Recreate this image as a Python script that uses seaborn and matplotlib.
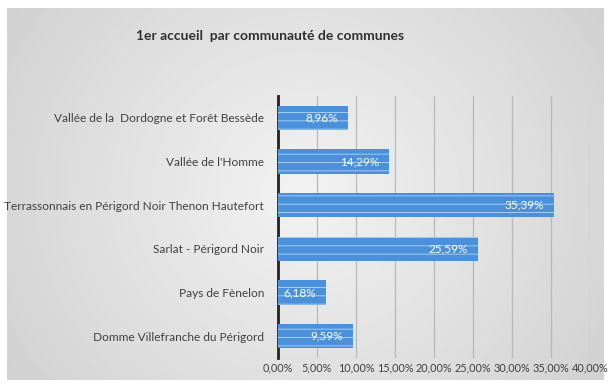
import numpy as np
import pandas as pd
import seaborn as sns
import matplotlib.pyplot as plt
from matplotlib.ticker import FuncFormatter

communautes = [
    "Vallée de la  Dordogne et Forêt Bessède",
    "Vallée de l'Homme",
    "Terrassonnais en Périgord Noir Thenon Hautefort",
    "Sarlat - Périgord Noir",
    "Pays de Fènelon",
    "Domme Villefranche du Périgord",
]
parts = [0.0896, 0.1429, 0.3539, 0.2559, 0.0618, 0.0959]
labels = ["8,96%", "14,29%", "35,39%", "25,59%", "6,18%", "9,59%"]
ticks = [0, 0.05, 0.10, 0.15, 0.20, 0.25, 0.30, 0.35, 0.40]

df = pd.DataFrame({"Communaute": communautes, "Part": parts})

sns.set_theme(style="white")
plt.rcParams['font.family'] = ['Lato', 'DejaVu Sans']
plt.rcParams['hatch.color'] = '#a8cdf2'
plt.rcParams['hatch.linewidth'] = 0.7

fig = plt.figure(figsize=(6.11, 3.85), dpi=100)
fig.patch.set_facecolor('white')

# grey gradient panel behind the chart
bg = fig.add_axes([0.012, 0.012, 0.976, 0.966])
yy, xx = np.mgrid[-1:1:200j, -1:1:300j]
grad = 0.95 - 0.12 * np.sqrt((xx * 0.9) ** 2 + (yy * 0.6) ** 2)
bg.imshow(grad, cmap='gray', vmin=0, vmax=1, aspect='auto', extent=[0, 1, 0, 1])
bg.axis('off')

ax = fig.add_axes([278 / 611, 1 - 358 / 385, (590 - 278) / 611, (358 - 96) / 385])
ax.patch.set_alpha(0)

sns.barplot(data=df, x="Part", y="Communaute", orient='h', color='#4a90da',
            width=0.55, ax=ax, saturation=1, zorder=3)
for p in ax.patches:
    p.set_hatch('--')
    p.set_edgecolor('#a8cdf2')
    p.set_linewidth(0)

for i, (v, t) in enumerate(zip(parts, labels)):
    ax.annotate(t, (v, i), xytext=(-7, 0), textcoords='offset points',
                ha='right', va='center', color='white', fontsize=8.5, zorder=4)

ax.set_xlim(0, 0.40)
ax.set_xticks(ticks)
ax.xaxis.set_major_formatter(FuncFormatter(lambda x, _: f"{x * 100:.2f}%".replace('.', ',')))
ax.grid(axis='x', color='#b8b8b8', linewidth=0.9, zorder=0)
ax.set_axisbelow(True)
for s in ['top', 'right', 'bottom']:
    ax.spines[s].set_visible(False)
ax.spines['left'].set_color('#222222')
ax.spines['left'].set_linewidth(2)
ax.tick_params(axis='x', length=0, labelsize=7.8, colors='#404040', pad=3)
ax.tick_params(axis='y', length=0, labelsize=8.6, colors='#404040', pad=10)
ax.set_xlabel('')
ax.set_ylabel('')

fig.text(270 / 611, 1 - 36 / 385, "1er accueil  par communauté de communes",
         ha='center', va='center', fontsize=10, fontweight='bold', color='#303030')

fig.savefig('out.png', dpi=100)
